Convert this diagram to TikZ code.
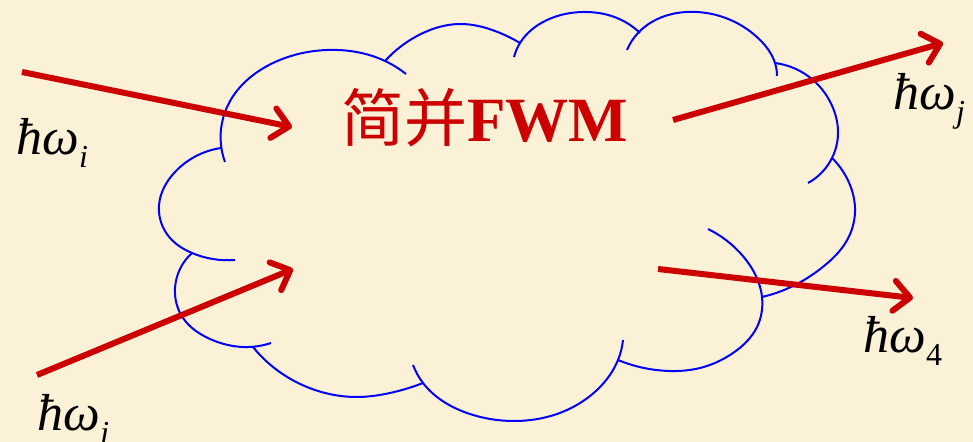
\documentclass[tikz,border=0pt]{standalone}
\usepackage{fontspec}
\setmainfont{Liberation Serif}
\newfontfamily\cjk{Noto Sans CJK SC}
\usetikzlibrary{arrows.meta,hobby}
\definecolor{parch}{RGB}{251,241,215}
\definecolor{rayred}{RGB}{204,0,0}
\definecolor{cloudblue}{RGB}{0,0,255}
\tikzset{
  lobe/.style={draw=cloudblue, line width=1pt, use Hobby shortcut},
  ray/.style={draw=rayred, line width=3pt, -{Straight Barb[length=8pt,width=15pt,round]}},
  lab/.style={anchor=base west, inner sep=0pt, font=\fontsize{26}{26}\selectfont\itshape},
}
\newcommand{\sublab}[1]{\raisebox{-6.5pt}{\fontsize{16}{16}\selectfont #1}}
\begin{document}
\begin{tikzpicture}[x=0.5pt,y=-0.5pt]
\fill[parch] (0,0) rectangle (973,442);
\useasboundingbox (0,0) rectangle (973,442);
% cloud lobes
\draw[lobe] (225,162) .. (221,145) .. (229,103) .. (273,63) .. (327,50) .. (385,61) .. (406,74);
\draw[lobe] (385,61) .. (423,33) .. (460,24) .. (495,31) .. (520,43);
\draw[lobe] (514,57) .. (520,43) .. (547,20) .. (583,12) .. (617,18) .. (640,33);
\draw[lobe] (627,50) .. (638,33) .. (697,12) .. (760,40) .. (775,63) .. (777,76);
\draw[lobe] (775,63) .. (813,80) .. (833,108) .. (838,133) .. (832,158) .. (808,183);
\draw[lobe] (832,158) .. (850,185) .. (855,212) .. (846,242) .. (824,266) .. (795,285) .. (762,297);
\draw[lobe] (708,229) .. (742,255) .. (762,297) .. (757,327) .. (733,353) .. (700,368) .. (670,371) .. (618,360);
\draw[lobe] (623,340) .. (618,360) .. (600,387) .. (567,410) .. (513,421) .. (467,413) .. (423,383) .. (413,365);
\draw[lobe] (423,383) .. (390,393) .. (357,397) .. (307,387) .. (273,367) .. (253,347);
\draw[lobe] (192,253) .. (175,288) .. (183,318) .. (210,339) .. (243,347) .. (271,343);
\draw[lobe] (221,148) .. (175,172) .. (159,205) .. (170,238) .. (192,253) .. (235,260);
% arrow end points
\coordinate (a1s) at (22,72);   \coordinate (a1e) at (292,127);
\coordinate (a2s) at (37,375);  \coordinate (a2e) at (293,269);
\coordinate (a3s) at (673,120); \coordinate (a3e) at (943,43);
\coordinate (a4s) at (658,269); \coordinate (a4e) at (913,298);
\draw[ray] (a1s) -- (a1e);
\draw[ray] (a2s) -- (a2e);
\draw[ray] (a3s) -- (a3e);
\draw[ray] (a4s) -- (a4e);
% labels
\node[lab] (li) at (16,155) {ħω\sublab{i}};
\node[lab] (lj1) at (37,430) {ħω\sublab{j}};
\node[lab] (lj2) at (893,110) {ħω\sublab{j}};
\node[lab] (l4) at (863,353) {ħω\sublab{\upshape 4}};
\node[anchor=base west, inner sep=0pt, text=rayred, font=\fontsize{31.5}{31.5}\selectfont] (title) at (341,142) {{\cjk 简并}\textbf{FWM}};
\end{tikzpicture}
\end{document}
